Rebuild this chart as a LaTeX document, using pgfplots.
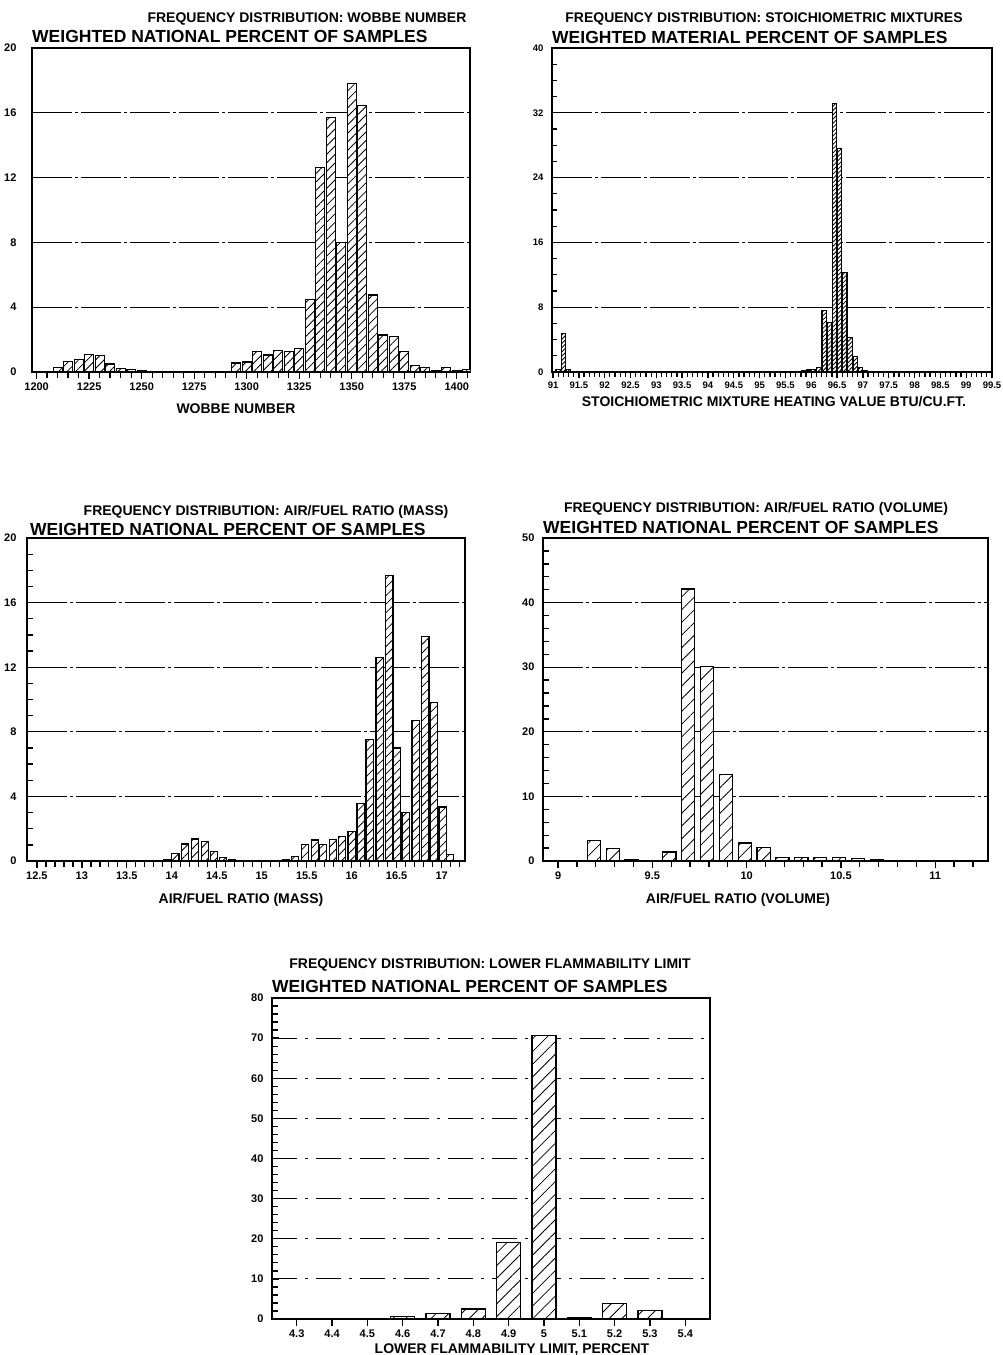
\documentclass[border=0pt]{standalone}
\usepackage{fontspec}
\setmainfont{Liberation Sans}
\usepackage{pgfplots}
\pgfplotsset{compat=1.18}
\usetikzlibrary{patterns.meta}

\pgfplotsset{
  panel/.style={
    scale only axis,
    anchor=south west,
    axis line style={line width=1.8pt},
    tick pos=left,
    xtick align=outside,
    ytick align=inside,
    major tick length=7pt,
    minor tick length=6pt,
    tick style={line width=1.3pt, black},
    ymajorgrids,
    major grid style={black, line width=1.3pt, dash pattern=on 40pt off 3pt on 3pt off 3pt},
    ticklabel style={font=\bfseries\fontsize{11}{11}\selectfont},
    yticklabel style={xshift=-5pt},
    /pgf/number format/assume math mode=true,
    /pgf/number format/1000 sep={},
    ymin=0,
  },
  hbar/.style={ybar, draw=black, line width=1.2pt, fill=white,
    postaction={pattern={Lines[angle=45,distance=#1,line width=0.8pt]}}},
}
\newcommand{\tone}{\bfseries\fontsize{14}{14}\selectfont}
\newcommand{\ttwo}{\bfseries\fontsize{17.5}{17.5}\selectfont}

\begin{document}
\begin{tikzpicture}
\useasboundingbox (0,0) rectangle (1003pt,-1355pt);

% ---------- Panel 1: Wobbe number ----------
\begin{axis}[panel, at={(32pt,-372pt)}, width=438pt, height=324pt,
  xmin=1197.8, xmax=1406.3, ymax=20,
  xtick={1200,1225,...,1400}, minor xtick={1200,1205,...,1405},
  ytick={0,4,...,20}, bar width=4.3, yticklabel style={xshift=-7pt}]
\addplot[hbar=6pt] coordinates {
(1210,0.3) (1215,0.64) (1220,0.78) (1225,1.1) (1230,1.0) (1235,0.5) (1240,0.23) (1245,0.16)
(1250,0.06) (1255,0.04) (1260,0.03) (1265,0.03) (1270,0.03) (1275,0.04) (1280,0.05) (1285,0.05) (1290,0.05)
(1295,0.55) (1300,0.62) (1305,1.25) (1310,1.05) (1315,1.35) (1320,1.25) (1325,1.45)
(1330,4.5) (1335,12.6) (1340,15.7) (1345,8.0) (1350,17.8) (1355,16.45) (1360,4.75)
(1365,2.28) (1370,2.18) (1375,1.25) (1380,0.4) (1385,0.28) (1390,0.1) (1395,0.28) (1400,0.1) (1405,0.15)
};
\end{axis}
\node[anchor=base, font=\tone] at (307pt,-22pt) {FREQUENCY DISTRIBUTION: WOBBE NUMBER};
\node[anchor=base west, inner sep=0pt, font=\ttwo] at (32pt,-42pt) {WEIGHTED NATIONAL PERCENT OF SAMPLES};
\node[anchor=base, font=\tone] at (236pt,-413pt) {WOBBE NUMBER};

% ---------- Panel 2: Stoichiometric mixtures ----------
\begin{axis}[panel, at={(552pt,-372pt)}, width=440pt, height=324pt,
  xmin=90.98, xmax=99.5, ymax=40,
  xtick={91,91.5,92,92.5,93,93.5,94,94.5,95,95.5,96,96.5,97,97.5,98,98.5,99,99.5},
  minor xtick={91,91.1,...,99.45},
  ytick={0,8,...,40}, minor ytick={2,4,...,38}, bar width=0.085,
  major tick length=6pt, minor tick length=5pt,
  ticklabel style={font=\bfseries\fontsize{9.5}{9.5}\selectfont}]
\addplot[hbar=3pt] coordinates {
(91.1,0.3) (91.2,4.75) (91.3,0.3) (91.4,0.1)
(95.75,0.1) (95.85,0.15) (95.95,0.25) (96.05,0.35) (96.15,0.6)
(96.25,7.6) (96.35,6.1) (96.45,33.1) (96.55,27.6) (96.65,12.3) (96.75,4.3) (96.85,1.9) (96.95,0.6)
(97.05,0.2) (97.15,0.1) (97.25,0.1)
};
\end{axis}
\node[anchor=base, font=\tone] at (764pt,-22pt) {FREQUENCY DISTRIBUTION: STOICHIOMETRIC MIXTURES};
\node[anchor=base west, inner sep=0pt, font=\ttwo] at (552pt,-43pt) {WEIGHTED MATERIAL PERCENT OF SAMPLES};
\node[anchor=base, font=\tone] at (774pt,-406pt) {STOICHIOMETRIC MIXTURE HEATING VALUE BTU/CU.FT.};

% ---------- Panel 3: Air/fuel ratio (mass) ----------
\begin{axis}[panel, at={(27pt,-861pt)}, width=438pt, height=323pt,
  xmin=12.39, xmax=17.26, ymax=20,
  xtick={12.5,13,13.5,14,14.5,15,15.5,16,16.5,17},
  minor xtick={12.5,12.6,12.7,12.8,12.9,13,13.1,13.2,13.3,13.4,13.5,13.6,13.7,13.8,13.9,
    14,14.1,14.2,14.3,14.4,14.5,14.6,14.7,14.8,14.9,15,15.1,15.2,15.3,15.4,15.5,15.6,15.7,15.8,15.9,
    16,16.1,16.2,16.3,16.4,16.5,16.6,16.7,16.8,16.9,17,17.1,17.2},
  ytick={0,4,...,20}, minor ytick={1,2,...,19}, bar width=0.08,
  yticklabel style={xshift=-2pt}]
\addplot[hbar=6pt] coordinates {
(13.95,0.1) (14.04,0.45) (14.15,1.05) (14.26,1.36) (14.37,1.2) (14.47,0.58) (14.57,0.23) (14.67,0.1) (14.77,0.05)
(15.27,0.08) (15.37,0.3) (15.48,1.0) (15.59,1.3) (15.68,1.0) (15.79,1.35) (15.89,1.5)
(16.0,1.85) (16.1,3.55) (16.2,7.5) (16.31,12.6) (16.42,17.7) (16.5,7.0) (16.6,3.0)
(16.71,8.7) (16.82,13.9) (16.91,9.8) (17.01,3.35) (17.09,0.4)
};
\end{axis}
\node[anchor=base, font=\tone] at (266pt,-515pt) {FREQUENCY DISTRIBUTION: AIR/FUEL RATIO (MASS)};
\node[anchor=base west, inner sep=0pt, font=\ttwo] at (30pt,-535pt) {WEIGHTED NATIONAL PERCENT OF SAMPLES};
\node[anchor=base, font=\tone] at (241pt,-903pt) {AIR/FUEL RATIO (MASS)};

% ---------- Panel 4: Air/fuel ratio (volume) ----------
\begin{axis}[panel, at={(543pt,-861pt)}, width=445pt, height=323pt,
  xmin=8.92, xmax=11.28, ymax=50,
  xtick={9,9.5,10,10.5,11},
  minor xtick={9,9.1,9.2,9.3,9.4,9.5,9.6,9.7,9.8,9.9,10,10.1,10.2,10.3,10.4,10.5,10.6,10.7,10.8,10.9,11,11.1,11.2},
  ytick={0,10,...,50}, minor ytick={2,4,...,48}, bar width=0.07]
\addplot[hbar=9pt] coordinates {
(9.19,3.2) (9.29,1.9) (9.39,0.15) (9.49,0.05) (9.59,1.4) (9.69,42.1) (9.79,30.1) (9.89,13.4)
(9.99,2.8) (10.09,2.1) (10.19,0.55) (10.29,0.5) (10.39,0.5) (10.49,0.5) (10.59,0.45) (10.69,0.15)
};
\end{axis}
\node[anchor=base, font=\tone] at (756pt,-512pt) {FREQUENCY DISTRIBUTION: AIR/FUEL RATIO (VOLUME)};
\node[anchor=base west, inner sep=0pt, font=\ttwo] at (543pt,-533pt) {WEIGHTED NATIONAL PERCENT OF SAMPLES};
\node[anchor=base, font=\tone] at (738pt,-903pt) {AIR/FUEL RATIO (VOLUME)};

% ---------- Panel 5: Lower flammability limit ----------
\begin{axis}[panel, at={(272pt,-1319pt)}, width=438pt, height=321pt,
  xmin=4.23, xmax=5.47, ymax=80,
  xtick={4.3,4.4,4.5,4.6,4.7,4.8,4.9,5,5.1,5.2,5.3,5.4},
  ytick={0,10,...,80}, minor ytick={2,4,...,78}, bar width=0.068,
  major grid style={black, line width=1.1pt, dash pattern=on 25pt off 8pt on 3pt off 8pt}]
\addplot[hbar=9pt] coordinates {
(4.4,0.1) (4.5,0.1) (4.6,0.55) (4.7,1.4) (4.8,2.5) (4.9,19.0) (5.0,70.6) (5.1,0.4) (5.2,3.9) (5.3,2.1)
};
\end{axis}
\node[anchor=base, font=\tone] at (490pt,-968pt) {FREQUENCY DISTRIBUTION: LOWER FLAMMABILITY LIMIT};
\node[anchor=base west, inner sep=0pt, font=\ttwo] at (272pt,-992pt) {WEIGHTED NATIONAL PERCENT OF SAMPLES};
\node[anchor=base, font=\tone] at (512pt,-1353pt) {LOWER FLAMMABILITY LIMIT, PERCENT};
\end{tikzpicture}
\end{document}
